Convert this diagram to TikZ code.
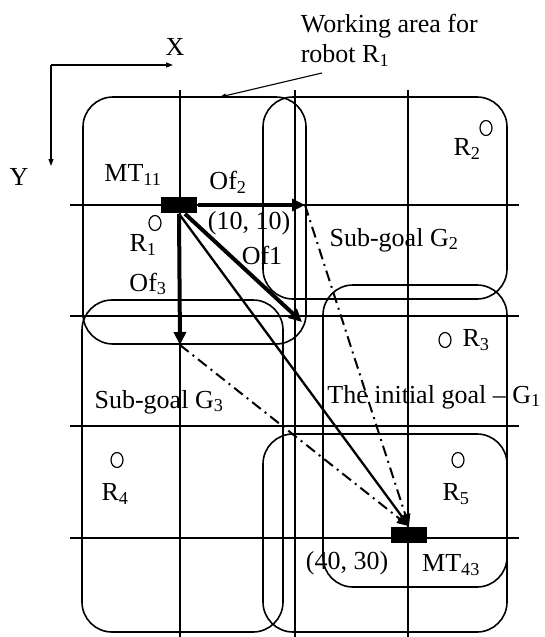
\documentclass[tikz,border=0pt]{standalone}
\usepackage{fontspec}
\setmainfont{Liberation Serif}
\usetikzlibrary{arrows.meta}

\begin{document}
\begin{tikzpicture}[x=1pt,y=-1pt,line width=1.6pt,
        every node/.style={font=\fontsize{26}{30}\selectfont,inner sep=0pt},
        area/.style={rounded corners=30pt},
        robotmark/.style={line width=1.2pt},
        marker/.style={draw=none,fill=black,minimum width=36pt,minimum height=16pt},
        offset/.style={line width=4pt,-{Triangle[length=13pt,width=12pt]}},
        route/.style={line width=2.3pt,-{Triangle[length=12pt,width=10pt]}},
        plan/.style={line width=2pt,dash pattern=on 11pt off 5pt on 2pt off 5pt,-{Triangle[length=12pt,width=10pt]}},
        axis/.style={line width=1.1pt,-{Triangle[length=7pt,width=5pt]}}]
        \useasboundingbox (0,0) rectangle (544,637);
        \foreach \x in {180,295,408} {
            \draw (\x,90) -- (\x,637);
        }
        \foreach \y in {205,316,426,538} {
            \draw (70,\y) -- (519,\y);
        }
        \draw[area] (83,97) rectangle (306,344);
        \draw[area] (263,97) rectangle (507,299);
        \draw[area] (323,285) rectangle (507,587);
        \draw[area] (82,300) rectangle (283,632);
        \draw[area] (263,434) rectangle (507,632);
        \foreach \px/\py in {155/223,486/128,445/340,117/460,458/460} {
            \draw[robotmark] (\px,\py) ellipse (6pt and 7.5pt);
        }
        \coordinate (o) at (51,65);
        \coordinate (xend) at (173,65);
        \coordinate (yend) at (51,166);
        \draw[axis] (o) -- (xend);
        \draw[axis] (o) -- (yend);
        \node (xlab) at (175,47) {X};
        \node (ylab) at (19,177) {Y};
        \node[align=left,anchor=west] (work) at (300,40) {Working area for\\robot R\textsubscript{1}};
        \coordinate (leadstart) at (322,73);
        \coordinate (leadend) at (220,97);
        \draw[line width=1.1pt,-{Triangle[length=6pt,width=4pt]}] (leadstart) -- (leadend);
        \node[marker] (mt1) at (179,205) {};
        \node[marker] (mt4) at (409,535) {};
        \coordinate (g2) at (305,205);
        \coordinate (g3) at (180,345);
        \coordinate (g1) at (302,322);
        \draw[plan] (g2) -- (mt4.north);
        \draw[plan] (g3) -- (mt4.north);
        \draw[route] (mt1.south) -- (mt4.north);
        \draw[offset] (mt1.east) -- (g2);
        \draw[offset] (mt1.south) -- (g3);
        \draw[offset] ([xshift=6pt]mt1.south) -- (g1);
        \node (mt1lab) at (133,175) {MT\textsubscript{11}};
        \node (of2) at (228,182) {Of\textsubscript{2}};
        \node (start) at (249,223) {(10, 10)};
        \node (of1) at (262,255) {Of1};
        \node (r1) at (143,245) {R\textsubscript{1}};
        \node (of3) at (148,284) {Of\textsubscript{3}};
        \node (r2) at (467,149) {R\textsubscript{2}};
        \node (sg2) at (394,240) {Sub-goal G\textsubscript{2}};
        \node (r3) at (476,340) {R\textsubscript{3}};
        \node (ig) at (434,397) {The initial goal -- G\textsubscript{1}};
        \node (sg3) at (159,402) {Sub-goal G\textsubscript{3}};
        \node (r4) at (115,494) {R\textsubscript{4}};
        \node (r5) at (456,494) {R\textsubscript{5}};
        \node (goal) at (347,563) {(40, 30)};
        \node (mt4lab) at (451,565) {MT\textsubscript{43}};
    \end{tikzpicture}
\end{document}
